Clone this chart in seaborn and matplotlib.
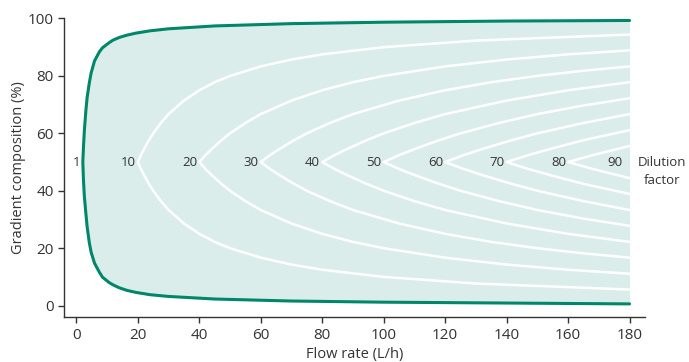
import matplotlib
matplotlib.use("Agg")
import matplotlib.pyplot as plt
import seaborn as sns
import pandas as pd

# Dilution factors labelled on the chart
factors = [1, 10, 20, 30, 40, 50, 60, 70, 80, 90]

# Curve points: flow rate (L/h) and the lower / upper
# gradient composition (%) of each dilution-factor boundary
flow = {
    1: [2.1, 2.3, 2.6, 3.1, 3.5, 4.2, 4.8, 5.9, 7.5, 8.5, 10.7, 12, 14, 16.5, 19.4, 24, 30, 45, 70, 100, 140, 180],
    10: [20, 21, 22, 23.5, 25, 27.5, 30, 35, 40, 45, 50, 60, 70, 80, 100, 130, 180],
    20: [40, 42, 44, 47, 50, 55, 60, 70, 80, 90, 100, 120, 140, 160, 180],
    30: [60, 63, 66, 70.5, 75, 82.5, 90, 105, 120, 135, 150, 165, 180],
    40: [80, 84, 88, 94, 100, 110, 120, 140, 160, 180],
    50: [100, 105, 110, 117.5, 125, 137.5, 150, 165, 180],
    60: [120, 126, 132, 141, 150, 165, 180],
    70: [140, 147, 154, 165, 180],
    80: [160, 164, 168, 174, 180],
}
lower = {
    1: [50, 44, 38, 32, 27.5, 22, 18.6, 14.8, 11.6, 9.9, 8.0, 7.2, 6.2, 5.3, 4.6, 3.8, 3.2, 2.3, 1.6, 1.2, 0.9, 0.6],
    10: [50, 47.6, 45.5, 42.6, 40, 36.4, 33.3, 28.6, 25, 22.2, 20, 16.7, 14.3, 12.5, 10, 7.7, 5.6],
    20: [50, 47.6, 45.5, 42.6, 40, 36.4, 33.3, 28.6, 25, 22.2, 20, 16.7, 14.3, 12.5, 11.1],
    30: [50, 47.6, 45.5, 42.6, 40, 36.4, 33.3, 28.6, 25, 22.2, 20, 18.2, 16.7],
    40: [50, 47.6, 45.5, 42.6, 40, 36.4, 33.3, 28.6, 25, 22.2],
    50: [50, 47.6, 45.5, 42.6, 40, 36.4, 33.3, 30.3, 27.8],
    60: [50, 47.6, 45.5, 42.6, 40, 36.4, 33.3],
    70: [50, 47.6, 45.5, 42.4, 38.9],
    80: [50, 48.8, 47.6, 46.0, 44.4],
}
upper = {
    1: [50, 55, 61, 68, 72.5, 77.5, 81, 85.2, 88.4, 89.8, 91.6, 92.5, 93.4, 94.2, 94.9, 95.7, 96.4, 97.4, 98.2, 98.7, 99.1, 99.3],
    10: [50, 52.4, 54.5, 57.4, 60, 63.6, 66.7, 71.4, 75, 77.8, 80, 83.3, 85.7, 87.5, 90, 92.3, 94.4],
    20: [50, 52.4, 54.5, 57.4, 60, 63.6, 66.7, 71.4, 75, 77.8, 80, 83.3, 85.7, 87.5, 88.9],
    30: [50, 52.4, 54.5, 57.4, 60, 63.6, 66.7, 71.4, 75, 77.8, 80, 81.8, 83.3],
    40: [50, 52.4, 54.5, 57.4, 60, 63.6, 66.7, 71.4, 75, 77.8],
    50: [50, 52.4, 54.5, 57.4, 60, 63.6, 66.7, 69.7, 72.2],
    60: [50, 52.4, 54.5, 57.4, 60, 63.6, 66.7],
    70: [50, 52.4, 54.5, 57.6, 61.1],
    80: [50, 51.2, 52.4, 54.0, 55.6],
}

green = "#00876a"
fill = "#dbedea"
ink = "#333333"

rows = []
for d in flow:
    # upper branch right-to-left, then lower branch left-to-right
    xs = flow[d][::-1] + flow[d][1:]
    ys = upper[d][::-1] + lower[d][1:]
    for x, y in zip(xs, ys):
        rows.append({"flow": x, "comp": y, "factor": d})
df = pd.DataFrame(rows)

sns.set_style("ticks")
plt.rcParams["font.family"] = ["Open Sans", "DejaVu Sans"]

fig = plt.figure(figsize=(6.89, 3.62), dpi=100)
ax = fig.add_axes([0.093, 0.124, 0.843, 0.825])

ax.fill_between(flow[1], lower[1], upper[1], color=fill, lw=0, zorder=1)

white = df[df["factor"] != 1]
sns.lineplot(data=white, x="flow", y="comp", units="factor", estimator=None,
             sort=False, color="white", lw=1.8, ax=ax, zorder=2)
outer = df[df["factor"] == 1]
sns.lineplot(data=outer, x="flow", y="comp", estimator=None, sort=False,
             color=green, lw=2.2, ax=ax, zorder=3)

for d in factors:
    lx = min(2 * d - 0.7, 177.8)
    ax.text(lx, 50, str(d), ha="right", va="center", fontsize=9.5, color=ink, zorder=4)
ax.text(190.5, 50, "Dilution", ha="center", va="center", fontsize=9.5, color=ink, clip_on=False)
ax.text(190.5, 43.4, "factor", ha="center", va="center", fontsize=9.5, color=ink, clip_on=False)

ax.set_xlim(-4, 185)
ax.set_ylim(-4, 100)
ax.set_xticks(range(0, 181, 20))
ax.set_yticks(range(0, 101, 20))
ax.tick_params(axis="both", length=4, width=1, color=ink, labelsize=11, labelcolor=ink)
for s in ["left", "bottom"]:
    ax.spines[s].set_color(ink)
    ax.spines[s].set_linewidth(1)
sns.despine(ax=ax)

ax.set_xlabel("Flow rate (L/h)", fontsize=10.5, color=ink, labelpad=3)
ax.set_ylabel("Gradient composition (%)", fontsize=10.5, color=ink, labelpad=1)

fig.savefig("out.png", dpi=100)
